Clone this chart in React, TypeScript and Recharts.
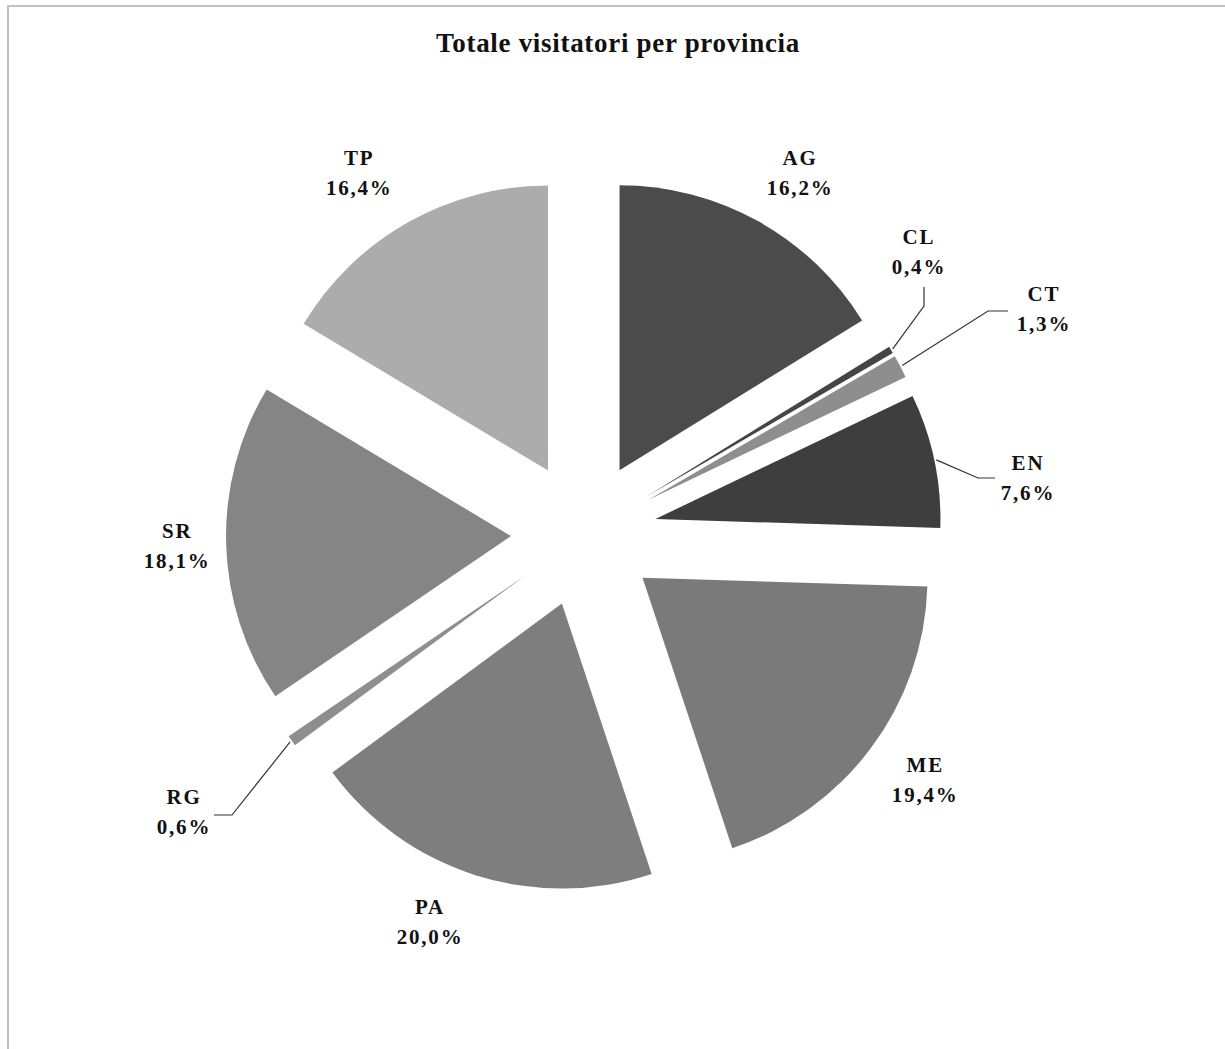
import React from 'react';
import { PieChart, Pie, Cell } from 'recharts';

// province codes and their share of visitors (%)
const provinces = ['AG', 'CL', 'CT', 'EN', 'ME', 'PA', 'RG', 'SR', 'TP'];
const shares = [16.2, 0.4, 1.3, 7.6, 19.4, 20.0, 0.6, 18.1, 16.4];
const fills = ['#4b4b4b', '#454545', '#8e8e8e', '#3e3e3e', '#7a7a7a', '#7e7e7e', '#8e8e8e', '#858585', '#acacac'];

const TITLE = 'Totale visitatori per provincia';

const W = 1225;
const H = 1049;
const CX = 584;
const CY = 534;
const RADIUS = 285;
const EXPLODE = 73;
const RAD = Math.PI / 180;

// callouts for the thin slices (elbow, end of line, label centre)
const callouts: Record<string, { elbow: [number, number]; end: [number, number]; text: [number, number] }> = {
  CL: { elbow: [924, 306], end: [924, 287], text: [918, 252] },
  CT: { elbow: [988, 311], end: [1008, 311], text: [1043, 309] },
  EN: { elbow: [978, 478], end: [995, 478], text: [1027, 478] },
  RG: { elbow: [232, 815], end: [214, 815], text: [183, 812] },
};

// small nudges (angle in degrees, radius in px) for the plain labels
const labelNudge: Record<string, { a: number; r: number }> = {
  AG: { a: 2, r: 2 },
  TP: { a: -3, r: 8 },
  PA: { a: 5, r: 0 },
  SR: { a: 0, r: -10 },
  ME: { a: -1, r: 2 },
};

const fmt = (v: number) => v.toFixed(1).replace('.', ',') + '%';

const slices = provinces.map((name, i) => {
  const before = shares.slice(0, i).reduce((a, b) => a + b, 0);
  const total = shares.reduce((a, b) => a + b, 0);
  const start = (before / total) * 360;
  const end = ((before + shares[i]) / total) * 360;
  const mid = ((start + end) / 2) * RAD;
  return {
    name,
    value: shares[i],
    fill: fills[i],
    startAngle: 90 - start,
    endAngle: 90 - end,
    cx: CX + EXPLODE * Math.sin(mid),
    cy: CY - EXPLODE * Math.cos(mid),
  };
});

const labelStyle: React.CSSProperties = {
  fontFamily: '"Liberation Serif", "Times New Roman", serif',
  fontWeight: 700,
  fontSize: 21,
  letterSpacing: 1.8,
};

const renderLabel = (props: any) => {
  const { cx, cy, midAngle, outerRadius, payload } = props;
  const name: string = payload.name;
  const text = fmt(payload.value);
  const c = callouts[name];
  let tx: number;
  let ty: number;
  let line: React.ReactNode = null;
  if (c) {
    const sx = cx + (outerRadius + 2) * Math.cos(-midAngle * RAD);
    const sy = cy + (outerRadius + 2) * Math.sin(-midAngle * RAD);
    line = (
      <polyline
        points={`${sx},${sy} ${c.elbow[0]},${c.elbow[1]} ${c.end[0]},${c.end[1]}`}
        fill="none"
        stroke="#333"
        strokeWidth={1.2}
      />
    );
    tx = c.text[0];
    ty = c.text[1];
  } else {
    const n = labelNudge[name] || { a: 0, r: 0 };
    const a = (midAngle - n.a) * RAD;
    const r = outerRadius + 60 + n.r;
    tx = cx + r * Math.cos(-a);
    ty = cy + r * Math.sin(-a);
  }
  return (
    <g key={`lbl-${name}`}>
      {line}
      <text x={tx + 1} y={ty - 15} textAnchor="middle" dominantBaseline="central" fill="#111" style={labelStyle}>
        {name}
      </text>
      <text x={tx + 1} y={ty + 15} textAnchor="middle" dominantBaseline="central" fill="#111" style={labelStyle}>
        {text}
      </text>
    </g>
  );
};

export default function App() {
  return (
    <div style={{ position: 'absolute', left: 0, top: 0, width: W, height: H, overflow: 'hidden', background: '#fff' }}>
      <div
        style={{
          position: 'absolute',
          left: 7,
          top: 5,
          width: W + 20,
          height: H + 20,
          border: '2px solid #c2c2c2',
        }}
      />
      <div
        style={{
          position: 'absolute',
          left: 0,
          top: 26,
          width: 1236,
          textAlign: 'center',
          fontFamily: '"Liberation Serif", "Times New Roman", serif',
          fontWeight: 700,
          fontSize: 27,
          letterSpacing: 0.7,
          lineHeight: '34px',
          color: '#111',
        }}
      >
        {TITLE}
      </div>
      <div style={{ position: 'absolute', left: 0, top: 0 }}>
        <PieChart width={W} height={H} margin={{ top: 0, right: 0, bottom: 0, left: 0 }}>
          {slices.map((s) => (
            <Pie
              key={s.name}
              data={[s]}
              dataKey="value"
              nameKey="name"
              cx={s.cx}
              cy={s.cy}
              outerRadius={RADIUS}
              innerRadius={0}
              startAngle={s.startAngle}
              endAngle={s.endAngle}
              stroke="none"
              label={renderLabel}
              labelLine={false}
              isAnimationActive={false}
            >
              <Cell fill={s.fill} />
            </Pie>
          ))}
        </PieChart>
      </div>
    </div>
  );
}
